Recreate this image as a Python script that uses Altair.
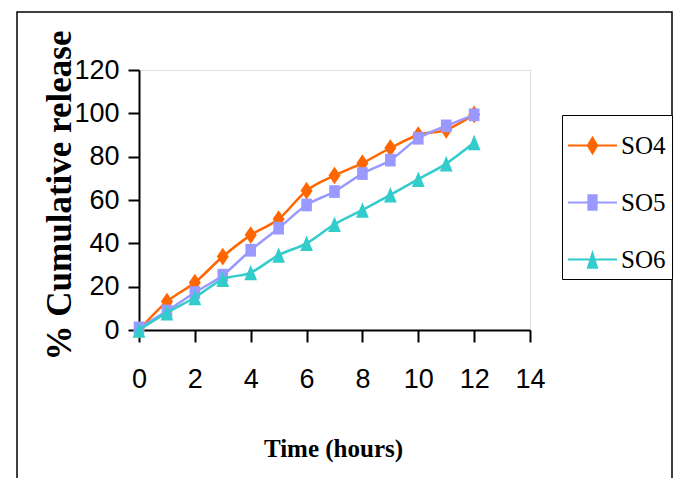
import altair as alt
import pandas as pd

hours = list(range(13))
so4 = [0, 13.1, 21.9, 33.9, 43.8, 51.2, 64.3, 71.3, 77.0, 84.0, 90.0, 92.4, 99.5]
so5 = [1.0, 8.8, 17.3, 25.3, 36.8, 47.0, 57.7, 63.9, 72.2, 78.4, 88.5, 94.2, 99.3]
so6 = [0, 8.0, 15.0, 23.4, 26.5, 34.6, 40.0, 48.8, 55.4, 62.4, 69.6, 76.8, 86.5]

series_names = ["SO4", "SO5", "SO6"]
series_colors = ["#FF6600", "#9999FF", "#33CCCC"]
marker_paths = [
    "M0,-1.25L0.85,0L0,1.25L-0.85,0Z",
    "M-0.75,-0.9H0.75V0.9H-0.75Z",
    "M0,-1.1L0.9,1.1L-0.9,1.1Z",
]
legend_paths = [
    "M-1,-0.045H1V0.045H-1Z M0,-0.4L0.24,0L0,0.4L-0.24,0Z",
    "M-1,-0.045H1V0.045H-1Z M-0.21,-0.34H0.21V0.34H-0.21Z",
    "M-1,-0.045H1V0.045H-1Z M0,-0.4L0.24,0.38L-0.24,0.38Z",
]
x_ticks = [0, 2, 4, 6, 8, 10, 12, 14]
y_ticks = [0, 20, 40, 60, 80, 100, 120]

rows = []
for name, vals in zip(series_names, [so4, so5, so6]):
    for t, v in zip(hours, vals):
        rows.append({"t": t, "v": v, "series": name})
df = pd.DataFrame(rows)

sans = "Liberation Sans, Arial"
serif = "Liberation Serif, Times New Roman"

x_enc = alt.X(
    "t:Q",
    scale=alt.Scale(domain=[0, 14], nice=False, zero=False),
    axis=alt.Axis(
        values=x_ticks, title="Time (hours)", grid=False, labelFlush=False,
        domainColor="black", domainWidth=2, tickColor="black", tickWidth=2, tickSize=12,
        labelFont=sans, labelFontSize=27, labelPadding=24, labelColor="black",
        titleFont=serif, titleFontWeight="bold", titleFontSize=25, titleColor="black",
        titleX=194, titleY=126, titleBaseline="alphabetic", titleAlign="center",
    ),
)
y_enc = alt.Y(
    "v:Q",
    scale=alt.Scale(domain=[0, 120], nice=False),
    axis=alt.Axis(
        values=y_ticks, title="% Cumulative release", grid=False, labelFlush=False,
        domainColor="black", domainWidth=2, tickColor="black", tickWidth=2, tickSize=11,
        labelFont=sans, labelFontSize=27, labelPadding=9, labelColor="black",
        titleFont=serif, titleFontWeight="bold", titleFontSize=35, titleColor="black",
        titleAngle=270, titleX=-69, titleY=125, titleBaseline="alphabetic", titleAlign="center",
    ),
)
color_scale = alt.Scale(domain=series_names, range=series_colors)

frame = alt.Chart(pd.DataFrame({"a": [0]})).mark_rect(
    color="black", fillOpacity=0, stroke="black", strokeWidth=1.5
).encode(x=alt.value(-122), x2=alt.value(533), y=alt.value(-58), y2=alt.value(440))

layers = [frame]
for name, path, col in zip(series_names, marker_paths, series_colors):
    sub = alt.Chart(df).transform_filter(alt.datum.series == name)
    layers.append(
        sub.mark_line(interpolate="monotone", strokeWidth=2.5, color=col).encode(x=x_enc, y=y_enc)
    )
    layers.append(
        sub.mark_point(shape=path, filled=True, size=200, opacity=1, strokeWidth=0, color=col)
        .encode(x=x_enc, y=y_enc)
    )

legend_props = dict(
    orient="none", legendX=423, legendY=45, title=None,
    strokeColor="black", padding=6, fillColor="white",
    symbolSize=2401, symbolStrokeWidth=0, symbolOpacity=1,
    labelFont=serif, labelFontSize=25, labelColor="black", labelOffset=4,
    rowPadding=19, labelBaseline="middle",
)
legend_layer = alt.Chart(df).transform_filter("datum.t < 0").mark_point(
    filled=True, opacity=1
).encode(
    x=x_enc, y=y_enc,
    color=alt.Color("series:N", scale=color_scale, legend=alt.Legend(**legend_props)),
    shape=alt.Shape("series:N", scale=alt.Scale(domain=series_names, range=legend_paths),
                    legend=alt.Legend(**legend_props)),
)
layers.append(legend_layer)

chart = alt.layer(*layers).properties(
    width=391, height=260,
    autosize=alt.AutoSizeParams(type="none"),
    padding={"left": 131, "top": 62, "right": 143, "bottom": 148},
).configure_view(stroke="transparent").configure(background="white")

chart.save("out.html", embed_options={"renderer": "svg", "actions": False})
